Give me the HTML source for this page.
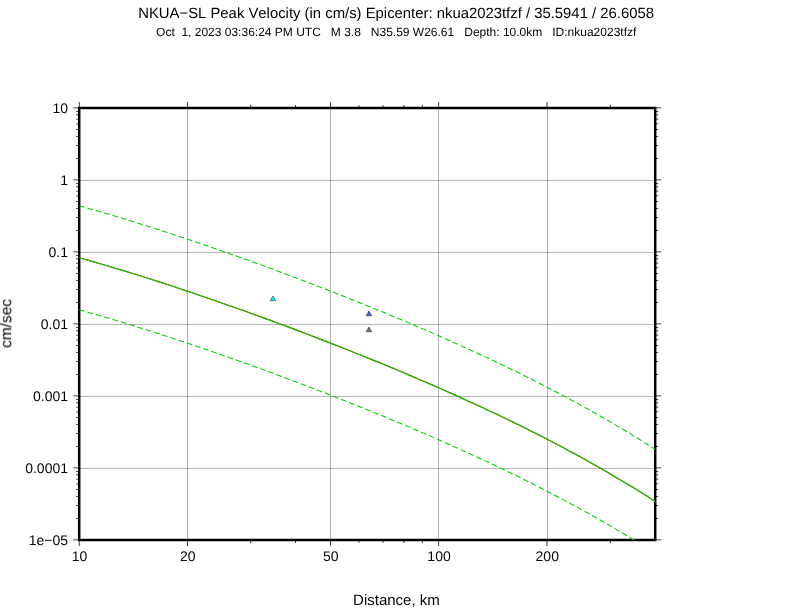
<!DOCTYPE html>
<html lang="en"><head><meta charset="utf-8"><title>NKUA-SL Peak Velocity</title>
<style>html,body{margin:0;padding:0;background:#fff}svg{display:block}</style></head>
<body>
<svg width="792" height="612" viewBox="0 0 792 612">
<rect width="792" height="612" fill="#fff"/>
<path d="M187 108 h1 V540 h-1 Z M330 108 h1 V540 h-1 Z M438 108 h1 V540 h-1 Z M547 108 h1 V540 h-1 Z" fill="#000" fill-opacity="0.29"/>
<path d="M79.20 468 H655.20 v1 H79.20 Z M79.20 396 H655.20 v1 H79.20 Z M79.20 324 H655.20 v1 H79.20 Z M79.20 252 H655.20 v1 H79.20 Z M79.20 180 H655.20 v1 H79.20 Z" fill="#000" fill-opacity="0.29"/>
<defs><clipPath id="c"><rect x="79.20" y="108.00" width="576.00" height="432.00"/></clipPath></defs>
<path d="M78.83 540.00 h0.75 v6.00 h-0.75 Z M78.83 108.00 h0.75 v-6.00 h-0.75 Z M187.06 540.00 h0.75 v6.00 h-0.75 Z M187.06 108.00 h0.75 v-6.00 h-0.75 Z M250.37 540.00 h0.75 v3.00 h-0.75 Z M250.37 108.00 h0.75 v-3.00 h-0.75 Z M295.29 540.00 h0.75 v3.00 h-0.75 Z M295.29 108.00 h0.75 v-3.00 h-0.75 Z M330.13 540.00 h0.75 v6.00 h-0.75 Z M330.13 108.00 h0.75 v-6.00 h-0.75 Z M358.60 540.00 h0.75 v3.00 h-0.75 Z M358.60 108.00 h0.75 v-3.00 h-0.75 Z M382.67 540.00 h0.75 v3.00 h-0.75 Z M382.67 108.00 h0.75 v-3.00 h-0.75 Z M403.52 540.00 h0.75 v3.00 h-0.75 Z M403.52 108.00 h0.75 v-3.00 h-0.75 Z M421.91 540.00 h0.75 v3.00 h-0.75 Z M421.91 108.00 h0.75 v-3.00 h-0.75 Z M438.36 540.00 h0.75 v6.00 h-0.75 Z M438.36 108.00 h0.75 v-6.00 h-0.75 Z M546.59 540.00 h0.75 v6.00 h-0.75 Z M546.59 108.00 h0.75 v-6.00 h-0.75 Z M609.90 540.00 h0.75 v3.00 h-0.75 Z M609.90 108.00 h0.75 v-3.00 h-0.75 Z M79.20 539.62 v0.75 h-6.00 v-0.75 Z M655.20 539.62 v0.75 h6.00 v-0.75 Z M79.20 517.95 v0.75 h-3.00 v-0.75 Z M655.20 517.95 v0.75 h3.00 v-0.75 Z M79.20 505.27 v0.75 h-3.00 v-0.75 Z M655.20 505.27 v0.75 h3.00 v-0.75 Z M79.20 496.28 v0.75 h-3.00 v-0.75 Z M655.20 496.28 v0.75 h3.00 v-0.75 Z M79.20 489.30 v0.75 h-3.00 v-0.75 Z M655.20 489.30 v0.75 h3.00 v-0.75 Z M79.20 483.60 v0.75 h-3.00 v-0.75 Z M655.20 483.60 v0.75 h3.00 v-0.75 Z M79.20 478.78 v0.75 h-3.00 v-0.75 Z M655.20 478.78 v0.75 h3.00 v-0.75 Z M79.20 474.60 v0.75 h-3.00 v-0.75 Z M655.20 474.60 v0.75 h3.00 v-0.75 Z M79.20 470.92 v0.75 h-3.00 v-0.75 Z M655.20 470.92 v0.75 h3.00 v-0.75 Z M79.20 467.62 v0.75 h-6.00 v-0.75 Z M655.20 467.62 v0.75 h6.00 v-0.75 Z M79.20 445.95 v0.75 h-3.00 v-0.75 Z M655.20 445.95 v0.75 h3.00 v-0.75 Z M79.20 433.27 v0.75 h-3.00 v-0.75 Z M655.20 433.27 v0.75 h3.00 v-0.75 Z M79.20 424.28 v0.75 h-3.00 v-0.75 Z M655.20 424.28 v0.75 h3.00 v-0.75 Z M79.20 417.30 v0.75 h-3.00 v-0.75 Z M655.20 417.30 v0.75 h3.00 v-0.75 Z M79.20 411.60 v0.75 h-3.00 v-0.75 Z M655.20 411.60 v0.75 h3.00 v-0.75 Z M79.20 406.78 v0.75 h-3.00 v-0.75 Z M655.20 406.78 v0.75 h3.00 v-0.75 Z M79.20 402.60 v0.75 h-3.00 v-0.75 Z M655.20 402.60 v0.75 h3.00 v-0.75 Z M79.20 398.92 v0.75 h-3.00 v-0.75 Z M655.20 398.92 v0.75 h3.00 v-0.75 Z M79.20 395.62 v0.75 h-6.00 v-0.75 Z M655.20 395.62 v0.75 h6.00 v-0.75 Z M79.20 373.95 v0.75 h-3.00 v-0.75 Z M655.20 373.95 v0.75 h3.00 v-0.75 Z M79.20 361.27 v0.75 h-3.00 v-0.75 Z M655.20 361.27 v0.75 h3.00 v-0.75 Z M79.20 352.28 v0.75 h-3.00 v-0.75 Z M655.20 352.28 v0.75 h3.00 v-0.75 Z M79.20 345.30 v0.75 h-3.00 v-0.75 Z M655.20 345.30 v0.75 h3.00 v-0.75 Z M79.20 339.60 v0.75 h-3.00 v-0.75 Z M655.20 339.60 v0.75 h3.00 v-0.75 Z M79.20 334.78 v0.75 h-3.00 v-0.75 Z M655.20 334.78 v0.75 h3.00 v-0.75 Z M79.20 330.60 v0.75 h-3.00 v-0.75 Z M655.20 330.60 v0.75 h3.00 v-0.75 Z M79.20 326.92 v0.75 h-3.00 v-0.75 Z M655.20 326.92 v0.75 h3.00 v-0.75 Z M79.20 323.62 v0.75 h-6.00 v-0.75 Z M655.20 323.62 v0.75 h6.00 v-0.75 Z M79.20 301.95 v0.75 h-3.00 v-0.75 Z M655.20 301.95 v0.75 h3.00 v-0.75 Z M79.20 289.27 v0.75 h-3.00 v-0.75 Z M655.20 289.27 v0.75 h3.00 v-0.75 Z M79.20 280.28 v0.75 h-3.00 v-0.75 Z M655.20 280.28 v0.75 h3.00 v-0.75 Z M79.20 273.30 v0.75 h-3.00 v-0.75 Z M655.20 273.30 v0.75 h3.00 v-0.75 Z M79.20 267.60 v0.75 h-3.00 v-0.75 Z M655.20 267.60 v0.75 h3.00 v-0.75 Z M79.20 262.78 v0.75 h-3.00 v-0.75 Z M655.20 262.78 v0.75 h3.00 v-0.75 Z M79.20 258.60 v0.75 h-3.00 v-0.75 Z M655.20 258.60 v0.75 h3.00 v-0.75 Z M79.20 254.92 v0.75 h-3.00 v-0.75 Z M655.20 254.92 v0.75 h3.00 v-0.75 Z M79.20 251.62 v0.75 h-6.00 v-0.75 Z M655.20 251.62 v0.75 h6.00 v-0.75 Z M79.20 229.95 v0.75 h-3.00 v-0.75 Z M655.20 229.95 v0.75 h3.00 v-0.75 Z M79.20 217.27 v0.75 h-3.00 v-0.75 Z M655.20 217.27 v0.75 h3.00 v-0.75 Z M79.20 208.28 v0.75 h-3.00 v-0.75 Z M655.20 208.28 v0.75 h3.00 v-0.75 Z M79.20 201.30 v0.75 h-3.00 v-0.75 Z M655.20 201.30 v0.75 h3.00 v-0.75 Z M79.20 195.60 v0.75 h-3.00 v-0.75 Z M655.20 195.60 v0.75 h3.00 v-0.75 Z M79.20 190.78 v0.75 h-3.00 v-0.75 Z M655.20 190.78 v0.75 h3.00 v-0.75 Z M79.20 186.60 v0.75 h-3.00 v-0.75 Z M655.20 186.60 v0.75 h3.00 v-0.75 Z M79.20 182.92 v0.75 h-3.00 v-0.75 Z M655.20 182.92 v0.75 h3.00 v-0.75 Z M79.20 179.62 v0.75 h-6.00 v-0.75 Z M655.20 179.62 v0.75 h6.00 v-0.75 Z M79.20 157.95 v0.75 h-3.00 v-0.75 Z M655.20 157.95 v0.75 h3.00 v-0.75 Z M79.20 145.27 v0.75 h-3.00 v-0.75 Z M655.20 145.27 v0.75 h3.00 v-0.75 Z M79.20 136.28 v0.75 h-3.00 v-0.75 Z M655.20 136.28 v0.75 h3.00 v-0.75 Z M79.20 129.30 v0.75 h-3.00 v-0.75 Z M655.20 129.30 v0.75 h3.00 v-0.75 Z M79.20 123.60 v0.75 h-3.00 v-0.75 Z M655.20 123.60 v0.75 h3.00 v-0.75 Z M79.20 118.78 v0.75 h-3.00 v-0.75 Z M655.20 118.78 v0.75 h3.00 v-0.75 Z M79.20 114.60 v0.75 h-3.00 v-0.75 Z M655.20 114.60 v0.75 h3.00 v-0.75 Z M79.20 110.92 v0.75 h-3.00 v-0.75 Z M655.20 110.92 v0.75 h3.00 v-0.75 Z M79.20 107.62 v0.75 h-6.00 v-0.75 Z M655.20 107.62 v0.75 h6.00 v-0.75 Z" fill="#000"/>
<rect x="79.20" y="108.00" width="576.00" height="432.00" fill="none" stroke="#000" stroke-width="2.5"/>
<g clip-path="url(#c)" fill="none">
<path d="M79.20 205.82 L86.40 207.82 L93.60 209.86 L100.80 211.94 L108.00 214.05 L115.20 216.18 L122.40 218.35 L129.60 220.55 L136.80 222.78 L144.00 225.03 L151.20 227.31 L158.40 229.62 L165.60 231.95 L172.80 234.31 L180.00 236.69 L187.20 239.09 L194.40 241.52 L201.60 243.96 L208.80 246.43 L216.00 248.92 L223.20 251.43 L230.40 253.96 L237.60 256.51 L244.80 259.08 L252.00 261.67 L259.20 264.28 L266.40 266.91 L273.60 269.56 L280.80 272.22 L288.00 274.91 L295.20 277.61 L302.40 280.33 L309.60 283.08 L316.80 285.84 L324.00 288.62 L331.20 291.41 L338.40 294.23 L345.60 297.07 L352.80 299.93 L360.00 302.81 L367.20 305.71 L374.40 308.64 L381.60 311.58 L388.80 314.55 L396.00 317.54 L403.20 320.55 L410.40 323.60 L417.60 326.66 L424.80 329.75 L432.00 332.87 L439.20 336.02 L446.40 339.19 L453.60 342.40 L460.80 345.64 L468.00 348.90 L475.20 352.20 L482.40 355.54 L489.60 358.91 L496.80 362.32 L504.00 365.76 L511.20 369.24 L518.40 372.76 L525.60 376.33 L532.80 379.94 L540.00 383.59 L547.20 387.29 L554.40 391.03 L561.60 394.83 L568.80 398.67 L576.00 402.57 L583.20 406.52 L590.40 410.53 L597.60 414.59 L604.80 418.71 L612.00 422.90 L619.20 427.15 L626.40 431.46 L633.60 435.84 L640.80 440.29 L648.00 444.81 L655.20 449.41" stroke="#00d200" stroke-width="1.05" stroke-dasharray="5.77 2.88"/>
<path d="M79.20 309.82 L86.40 311.82 L93.60 313.86 L100.80 315.94 L108.00 318.05 L115.20 320.18 L122.40 322.35 L129.60 324.55 L136.80 326.78 L144.00 329.03 L151.20 331.31 L158.40 333.62 L165.60 335.95 L172.80 338.31 L180.00 340.69 L187.20 343.09 L194.40 345.52 L201.60 347.96 L208.80 350.43 L216.00 352.92 L223.20 355.43 L230.40 357.96 L237.60 360.51 L244.80 363.08 L252.00 365.67 L259.20 368.28 L266.40 370.91 L273.60 373.56 L280.80 376.22 L288.00 378.91 L295.20 381.61 L302.40 384.33 L309.60 387.08 L316.80 389.84 L324.00 392.62 L331.20 395.41 L338.40 398.23 L345.60 401.07 L352.80 403.93 L360.00 406.81 L367.20 409.71 L374.40 412.64 L381.60 415.58 L388.80 418.55 L396.00 421.54 L403.20 424.55 L410.40 427.60 L417.60 430.66 L424.80 433.75 L432.00 436.87 L439.20 440.02 L446.40 443.19 L453.60 446.40 L460.80 449.64 L468.00 452.90 L475.20 456.20 L482.40 459.54 L489.60 462.91 L496.80 466.32 L504.00 469.76 L511.20 473.24 L518.40 476.76 L525.60 480.33 L532.80 483.94 L540.00 487.59 L547.20 491.29 L554.40 495.03 L561.60 498.83 L568.80 502.67 L576.00 506.57 L583.20 510.52 L590.40 514.53 L597.60 518.59 L604.80 522.71 L612.00 526.90 L619.20 531.15 L626.40 535.46 L633.60 539.84 L640.80 544.29 L648.00 548.81 L655.20 553.41" stroke="#00d200" stroke-width="1.05" stroke-dasharray="5.77 2.88"/>
<path d="M79.20 257.82 L86.40 259.82 L93.60 261.86 L100.80 263.94 L108.00 266.05 L115.20 268.18 L122.40 270.35 L129.60 272.55 L136.80 274.78 L144.00 277.03 L151.20 279.31 L158.40 281.62 L165.60 283.95 L172.80 286.31 L180.00 288.69 L187.20 291.09 L194.40 293.52 L201.60 295.96 L208.80 298.43 L216.00 300.92 L223.20 303.43 L230.40 305.96 L237.60 308.51 L244.80 311.08 L252.00 313.67 L259.20 316.28 L266.40 318.91 L273.60 321.56 L280.80 324.22 L288.00 326.91 L295.20 329.61 L302.40 332.33 L309.60 335.08 L316.80 337.84 L324.00 340.62 L331.20 343.41 L338.40 346.23 L345.60 349.07 L352.80 351.93 L360.00 354.81 L367.20 357.71 L374.40 360.64 L381.60 363.58 L388.80 366.55 L396.00 369.54 L403.20 372.55 L410.40 375.60 L417.60 378.66 L424.80 381.75 L432.00 384.87 L439.20 388.02 L446.40 391.19 L453.60 394.40 L460.80 397.64 L468.00 400.90 L475.20 404.20 L482.40 407.54 L489.60 410.91 L496.80 414.32 L504.00 417.76 L511.20 421.24 L518.40 424.76 L525.60 428.33 L532.80 431.94 L540.00 435.59 L547.20 439.29 L554.40 443.03 L561.60 446.83 L568.80 450.67 L576.00 454.57 L583.20 458.52 L590.40 462.53 L597.60 466.59 L604.80 470.71 L612.00 474.90 L619.20 479.15 L626.40 483.46 L633.60 487.84 L640.80 492.29 L648.00 496.81 L655.20 501.41" stroke="#ff0000" stroke-width="1.15"/>
<path d="M79.20 257.82 L86.40 259.82 L93.60 261.86 L100.80 263.94 L108.00 266.05 L115.20 268.18 L122.40 270.35 L129.60 272.55 L136.80 274.78 L144.00 277.03 L151.20 279.31 L158.40 281.62 L165.60 283.95 L172.80 286.31 L180.00 288.69 L187.20 291.09 L194.40 293.52 L201.60 295.96 L208.80 298.43 L216.00 300.92 L223.20 303.43 L230.40 305.96 L237.60 308.51 L244.80 311.08 L252.00 313.67 L259.20 316.28 L266.40 318.91 L273.60 321.56 L280.80 324.22 L288.00 326.91 L295.20 329.61 L302.40 332.33 L309.60 335.08 L316.80 337.84 L324.00 340.62 L331.20 343.41 L338.40 346.23 L345.60 349.07 L352.80 351.93 L360.00 354.81 L367.20 357.71 L374.40 360.64 L381.60 363.58 L388.80 366.55 L396.00 369.54 L403.20 372.55 L410.40 375.60 L417.60 378.66 L424.80 381.75 L432.00 384.87 L439.20 388.02 L446.40 391.19 L453.60 394.40 L460.80 397.64 L468.00 400.90 L475.20 404.20 L482.40 407.54 L489.60 410.91 L496.80 414.32 L504.00 417.76 L511.20 421.24 L518.40 424.76 L525.60 428.33 L532.80 431.94 L540.00 435.59 L547.20 439.29 L554.40 443.03 L561.60 446.83 L568.80 450.67 L576.00 454.57 L583.20 458.52 L590.40 462.53 L597.60 466.59 L604.80 470.71 L612.00 474.90 L619.20 479.15 L626.40 483.46 L633.60 487.84 L640.80 492.29 L648.00 496.81 L655.20 501.41" stroke="#00d200" stroke-width="1.15"/>
</g>
<path d="M272.95 296.00 L275.68 300.72 L270.22 300.72 Z" fill="#00f0f0" stroke="#000" stroke-width="0.45"/>
<path d="M368.90 311.00 L371.63 315.72 L366.17 315.72 Z" fill="#5050f0" stroke="#000" stroke-width="0.45"/>
<path d="M368.90 327.00 L371.63 331.72 L366.17 331.72 Z" fill="#787878" stroke="#000" stroke-width="0.45"/>
<g font-family="'Liberation Sans', sans-serif" fill="#000" opacity="0.999" style="text-rendering:geometricPrecision;font-kerning:none;font-variant-ligatures:none">
<text id="title" x="396.1" y="17.8" font-size="14.87" text-anchor="middle">NKUA−SL Peak Velocity (in cm/s) Epicenter: nkua2023tfzf / 35.5941 / 26.6058</text>
<text id="sub" x="396.2" y="36.2" font-size="12" text-anchor="middle" xml:space="preserve">Oct  1, 2023 03:36:24 PM UTC   M 3.8   N35.59 W26.61   Depth: 10.0km   ID:nkua2023tfzf</text>
<text class="yl" x="68" y="113.00" font-size="14" text-anchor="end">10</text>
<text class="yl" x="68" y="185.00" font-size="14" text-anchor="end">1</text>
<text class="yl" x="68" y="257.00" font-size="14" text-anchor="end">0.1</text>
<text class="yl" x="68" y="329.00" font-size="14" text-anchor="end">0.01</text>
<text class="yl" x="68" y="401.00" font-size="14" text-anchor="end">0.001</text>
<text class="yl" x="68" y="473.00" font-size="14" text-anchor="end">0.0001</text>
<text class="yl" x="68" y="545.00" font-size="14" text-anchor="end">1e−05</text>
<text class="xl" x="79.50" y="560.9" font-size="14" text-anchor="middle">10</text>
<text class="xl" x="187.73" y="560.9" font-size="14" text-anchor="middle">20</text>
<text class="xl" x="330.81" y="560.9" font-size="14" text-anchor="middle">50</text>
<text class="xl" x="439.04" y="560.9" font-size="14" text-anchor="middle">100</text>
<text class="xl" x="547.27" y="560.9" font-size="14" text-anchor="middle">200</text>
<text id="xlab" x="396.4" y="604.8" font-size="15" text-anchor="middle">Distance, km</text>
<text id="ylab" transform="translate(11.2 323.5) rotate(-90)" font-size="15.5" text-anchor="middle">cm/sec</text>
</g>
</svg>
</body></html>
